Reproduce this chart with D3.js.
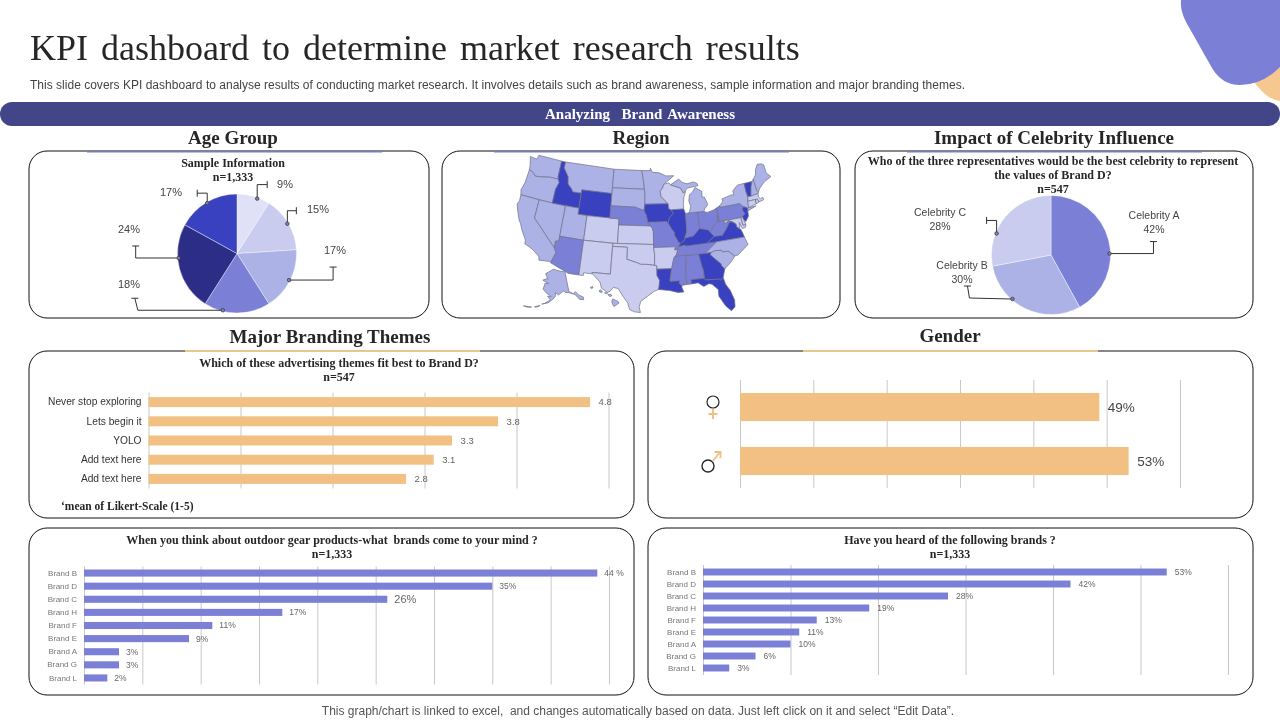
<!DOCTYPE html>
<html>
<head>
<meta charset="utf-8">
<script src="https://cdnjs.cloudflare.com/ajax/libs/d3/7.8.5/d3.min.js"></script>
<style>
  html, body { margin: 0; padding: 0; background: #fff; }
  svg { display: block; will-change: transform; }
  text { white-space: pre; }
  .serif { font-family: "Liberation Serif", serif; }
  .sans { font-family: "Liberation Sans", sans-serif; }
  .axis path { display: none; }
</style>
</head>
<body>
<div id="chart"></div>
<script>
// Age group pie
var ageValues = [9, 15, 17, 18, 24, 17];
var ageColors = ["#e0e1f6", "#c9cbef", "#adb2e6", "#7b80d6", "#2b2d86", "#3a41c0"];

// Celebrity pie
var celebNames = ["Celebrity A", "Celebrity B", "Celebrity C"];
var celebValues = [42, 30, 28];
var celebColors = ["#7b80d6", "#adb2e6", "#c9cbef"];

// Branding themes
var themeNames = ["Never stop exploring", "Lets begin it", "YOLO", "Add text here", "Add text here"];
var themeValues = [4.8, 3.8, 3.3, 3.1, 2.8];

// Gender
var genderValues = [49, 53];

// Brand questions
var brandNames = ["Brand B", "Brand D", "Brand C", "Brand H", "Brand F", "Brand E", "Brand A", "Brand G", "Brand L"];
var mindValues = [44, 35, 26, 17, 11, 9, 3, 3, 2];
var heardValues = [53, 42, 28, 19, 13, 11, 10, 6, 3];

// Map shading groups
var regionDark = ["ID", "WY", "IA", "IL", "KY", "VA", "NJ", "VT", "LA", "GA", "FL"];
var regionMid = ["NE", "MO", "IN", "OH", "PA", "WV", "TN", "MS", "AL", "AZ"];
var regionLight = ["WA", "OR", "CA", "NV", "UT", "MT", "ND", "SD", "MN", "MI", "NY", "ME", "NH", "NC", "SC", "AK", "HI"];
var regionPale = ["WI", "CO", "KS", "NM", "OK", "TX", "AR", "MD", "DE", "MA", "CT", "RI"];

// Rough state outlines in lon/lat
var stateShapes = {
  WA: [[[-124.7,48.4],[-123.0,48.3],[-122.8,49],[-117.03,49],[-117.04,46.4],[-116.9,46],[-118.98,46],[-119.3,45.93],[-121.2,45.65],[-122.3,45.55],[-122.8,45.9],[-123.4,46.2],[-124,46.25],[-124.1,46.9]]],
  OR: [[[-124,46.25],[-123.4,46.2],[-122.8,45.9],[-122.3,45.55],[-121.2,45.65],[-119.3,45.93],[-118.98,46],[-116.9,46],[-116.5,45.5],[-117,44.3],[-117.03,42],[-124.2,42],[-124.5,42.8],[-124.1,44]]],
  CA: [[[-124.2,42],[-120,42],[-120,39],[-114.63,35],[-114.15,34.27],[-114.5,33.4],[-114.72,32.72],[-117.12,32.53],[-117.3,33.1],[-118.4,33.75],[-119.2,34.15],[-120.6,34.55],[-120.65,35.15],[-121.9,36.6],[-122.5,37.5],[-123,38],[-123.8,39.3],[-124.4,40.4],[-124.1,41]]],
  NV: [[[-120,42],[-114.04,42],[-114.04,36.2],[-114.7,36.1],[-114.63,35],[-120,39]]],
  ID: [[[-117.03,49],[-116.05,49],[-116.05,48],[-114.7,46.7],[-114.4,45.55],[-113.45,44.95],[-113,44.45],[-111.05,44.48],[-111.05,42],[-117.03,42],[-117,44.3],[-116.5,45.5],[-116.9,46],[-117.04,46.4]]],
  MT: [[[-116.05,49],[-104.05,49],[-104.05,45],[-111.05,45],[-111.05,44.48],[-113,44.45],[-113.45,44.95],[-114.4,45.55],[-114.7,46.7],[-116.05,48]]],
  WY: [[[-111.05,45],[-104.05,45],[-104.05,41],[-111.05,41]]],
  UT: [[[-114.04,42],[-111.05,42],[-111.05,41],[-109.05,41],[-109.05,37],[-114.04,37]]],
  CO: [[[-109.05,41],[-102.05,41],[-102.05,37],[-109.05,37]]],
  AZ: [[[-114.04,37],[-109.05,37],[-109.05,31.33],[-111.07,31.33],[-114.81,32.5],[-114.72,32.72],[-114.5,33.4],[-114.15,34.27],[-114.63,35],[-114.7,36.1],[-114.04,36.2]]],
  NM: [[[-109.05,37],[-103,37],[-103.05,32],[-106.6,32],[-106.5,31.78],[-108.2,31.78],[-108.2,31.33],[-109.05,31.33]]],
  ND: [[[-104.05,49],[-97.23,49],[-96.85,47.5],[-96.56,45.94],[-104.05,45.94]]],
  SD: [[[-104.05,45.94],[-96.56,45.94],[-96.45,45.3],[-96.45,43.5],[-96.6,42.5],[-97.9,42.8],[-98.5,43],[-104.05,43]]],
  NE: [[[-104.05,43],[-98.5,43],[-97.9,42.8],[-96.6,42.5],[-96.1,41.7],[-95.75,40.58],[-95.3,40],[-102.05,40],[-102.05,41],[-104.05,41]]],
  KS: [[[-102.05,40],[-95.3,40],[-94.9,39.8],[-94.62,39.1],[-94.62,37],[-102.05,37]]],
  OK: [[[-103,37],[-94.62,37],[-94.62,36.5],[-94.43,35.4],[-94.48,33.64],[-96,33.8],[-97.2,33.8],[-98.1,34.1],[-100,34.56],[-100,36.5],[-103,36.5]]],
  TX: [[[-106.6,32],[-103.05,32],[-103,36.5],[-100,36.5],[-100,34.56],[-98.1,34.1],[-97.2,33.8],[-96,33.8],[-94.48,33.64],[-94.04,33.55],[-94.04,31.99],[-93.55,31.2],[-93.7,30.1],[-93.84,29.7],[-94.7,29.4],[-95.9,28.6],[-97.1,27.8],[-97.4,26.9],[-97.15,25.96],[-98.2,26.05],[-99.1,26.4],[-99.5,27.5],[-100.4,28.5],[-101.4,29.77],[-102.3,29.88],[-102.9,29.2],[-103.3,29],[-104.5,29.6],[-104.9,30.6],[-106.5,31.78]]],
  MN: [[[-97.23,49],[-95.15,49],[-95.15,49.38],[-94.6,48.7],[-93,48.6],[-91.4,48.05],[-89.5,48],[-92,46.7],[-92.3,46.1],[-92.9,45.6],[-92.75,44.75],[-91.2,43.5],[-96.45,43.5],[-96.45,45.3],[-96.56,45.94],[-96.85,47.5]]],
  IA: [[[-96.45,43.5],[-91.2,43.5],[-91.1,42.7],[-90.65,42.5],[-90.15,41.9],[-91.1,41.2],[-91.42,40.38],[-91.7,40.6],[-95.75,40.58],[-96.1,41.7],[-96.6,42.5]]],
  MO: [[[-95.75,40.58],[-91.7,40.6],[-91.42,40.38],[-90.7,39.4],[-90.15,38.8],[-90.2,38.4],[-89.5,37.3],[-89.15,36.98],[-89.5,36.5],[-89.7,36],[-90.38,36],[-90.15,36.5],[-94.62,36.5],[-94.62,39.1],[-94.9,39.8],[-95.3,40]]],
  AR: [[[-94.62,36.5],[-90.15,36.5],[-90.38,36],[-89.7,36],[-90.1,35.1],[-90.3,35],[-90.6,34.7],[-91.15,33],[-94.04,33],[-94.04,33.55],[-94.48,33.64],[-94.43,35.4]]],
  LA: [[[-94.04,33],[-91.15,33],[-91.6,31],[-89.73,31],[-89.85,30.6],[-89.4,30.2],[-89.4,29.8],[-89.1,29.1],[-90.2,29.1],[-91.8,29.5],[-93.84,29.7],[-93.7,30.1],[-93.55,31.2],[-94.04,31.99]]],
  MS: [[[-91.15,33],[-90.6,34.7],[-90.3,35],[-88.2,35],[-88.1,34.9],[-88.47,31.9],[-88.4,30.3],[-89.4,30.2],[-89.85,30.6],[-89.73,31],[-91.6,31]]],
  AL: [[[-88.2,35],[-85.6,34.98],[-85.18,32.87],[-85,32.3],[-85,31],[-87.6,31],[-87.5,30.3],[-88.4,30.3],[-88.47,31.9],[-88.1,34.9]]],
  TN: [[[-90.3,35],[-88.2,35],[-85.6,34.98],[-84.3,34.99],[-81.65,36.59],[-83.67,36.6],[-88.07,36.5],[-88.07,36.68],[-89.5,36.5],[-89.7,36],[-90.1,35.1]]],
  KY: [[[-89.5,36.5],[-88.07,36.68],[-88.07,36.5],[-83.67,36.6],[-81.97,37.54],[-82.6,38.17],[-83,38.7],[-84.8,39.1],[-85.4,38.7],[-86.3,38],[-87.5,37.9],[-88.1,37.8],[-88.1,37.5],[-89.15,36.98]]],
  IL: [[[-90.65,42.5],[-87.8,42.5],[-87.5,41.7],[-87.53,39.35],[-87.6,38.7],[-88.1,37.8],[-88.1,37.5],[-89.15,36.98],[-89.5,37.3],[-90.2,38.4],[-90.15,38.8],[-90.7,39.4],[-91.42,40.38],[-91.1,41.2],[-90.15,41.9]]],
  IN: [[[-87.5,41.7],[-87.2,41.76],[-84.8,41.76],[-84.8,39.1],[-85.4,38.7],[-86.3,38],[-87.5,37.9],[-88.1,37.8],[-87.6,38.7],[-87.53,39.35]]],
  OH: [[[-84.8,41.76],[-83.45,41.73],[-82.7,41.5],[-81.2,41.75],[-80.52,42],[-80.52,40.64],[-80.85,39.7],[-81.7,39.2],[-82.6,38.4],[-82.6,38.17],[-83,38.7],[-84.8,39.1]]],
  WI: [[[-92,46.7],[-90.8,46.9],[-90.4,46.55],[-88.1,45.9],[-87.6,45.1],[-87,45.3],[-87.5,44.5],[-87.8,43.2],[-87.8,42.5],[-90.65,42.5],[-91.1,42.7],[-91.2,43.5],[-92.75,44.75],[-92.9,45.6],[-92.3,46.1]]],
  MI: [[[-84.8,41.76],[-83.45,41.73],[-83.1,42.2],[-82.5,42.6],[-82.45,43],[-82.9,44],[-83.4,44.1],[-83.3,45],[-84.75,45.78],[-85.5,45],[-86.2,44.7],[-86.5,43.7],[-86.2,42.8],[-86.6,41.9],[-86.8,41.76]],
       [[-90.4,46.55],[-88.4,47.4],[-87.6,46.8],[-86.5,46.5],[-85,46.7],[-84.2,46.4],[-84,46],[-84.75,45.95],[-86.5,45.8],[-87.6,45.1],[-88.1,45.9]]],
  PA: [[[-80.52,42],[-79.76,42.25],[-79.76,42],[-75.35,42],[-74.7,41.36],[-75.1,40.95],[-74.75,40.2],[-75.4,39.8],[-75.8,39.72],[-80.52,39.72]]],
  NY: [[[-79.76,42.25],[-78.9,42.9],[-79.05,43.27],[-76.8,43.63],[-76.2,43.55],[-76.3,44.2],[-75,44.98],[-73.35,45],[-73.4,43.6],[-73.25,42.75],[-73.5,42.05],[-73.65,41],[-72,41],[-73.9,40.55],[-73.9,41],[-74.7,41.36],[-75.35,42],[-79.76,42]]],
  NJ: [[[-74.7,41.36],[-73.9,41],[-74,40.5],[-74.1,39.7],[-74.9,38.95],[-75.5,39.5],[-75.4,39.8],[-74.75,40.2],[-75.1,40.95]]],
  DE: [[[-75.8,39.72],[-75.4,39.8],[-75.05,38.45],[-75.7,38.45]]],
  MD: [[[-79.48,39.72],[-75.8,39.72],[-75.7,38.45],[-75.05,38.45],[-75.25,38.03],[-75.95,37.95],[-76.3,39],[-76.4,38.2],[-77,38.3],[-77.1,38.9],[-77.7,39.3],[-78.4,39.6],[-79.48,39.2]]],
  VA: [[[-83.67,36.6],[-81.65,36.59],[-75.9,36.55],[-76,37],[-76.3,37.9],[-77,38.3],[-77.1,38.9],[-77.7,39.3],[-78.35,39.4],[-79.3,38.4],[-80.3,37.5],[-81.97,37.54]]],
  WV: [[[-82.6,38.17],[-81.97,37.54],[-80.3,37.5],[-79.3,38.4],[-78.35,39.4],[-77.7,39.3],[-78.4,39.6],[-79.48,39.2],[-79.48,39.72],[-80.52,39.72],[-80.52,40.64],[-80.85,39.7],[-81.7,39.2],[-82.6,38.4]]],
  NC: [[[-84.3,34.99],[-83.1,35],[-82.3,35.2],[-81,35.15],[-80.8,34.82],[-79.67,34.8],[-78.55,33.86],[-77.9,33.9],[-76.5,34.7],[-75.5,35.25],[-75.9,36.55],[-81.65,36.59]]],
  SC: [[[-83.1,35],[-82.3,35.2],[-81,35.15],[-80.8,34.82],[-79.67,34.8],[-78.55,33.86],[-79.2,33.2],[-80.9,32.05],[-81.4,32.6],[-81.5,33],[-82.6,34],[-83.35,34.7]]],
  GA: [[[-85.6,34.98],[-84.3,34.99],[-83.1,35],[-83.35,34.7],[-82.6,34],[-81.5,33],[-81.4,32.6],[-80.9,32.05],[-81.45,30.72],[-82.05,30.36],[-82.2,30.57],[-84.86,30.7],[-85,31],[-85,32.3],[-85.18,32.87]]],
  FL: [[[-87.6,31],[-85,31],[-84.86,30.7],[-82.2,30.57],[-82.05,30.36],[-81.45,30.72],[-81.2,29.6],[-80.5,28.4],[-80.03,26.8],[-80.15,25.7],[-80.9,25.15],[-81.8,26.1],[-82.75,27.8],[-82.7,28.9],[-83.7,29.9],[-84.3,30.05],[-85.3,29.7],[-86.3,30.4],[-87.5,30.3]]],
  VT: [[[-73.35,45],[-71.5,45],[-72.05,44.1],[-72.45,43],[-72.46,42.73],[-73.25,42.75],[-73.4,43.6]]],
  NH: [[[-71.5,45],[-71.08,45.3],[-70.98,43.4],[-70.7,43.07],[-70.85,42.87],[-72.46,42.73],[-72.45,43],[-72.05,44.1]]],
  ME: [[[-71.08,45.3],[-70.3,45.9],[-70,46.7],[-69.23,47.46],[-68.3,47.36],[-67.8,47.07],[-67.8,45.7],[-67,44.9],[-68.8,44.4],[-70.2,43.6],[-70.7,43.07],[-70.98,43.4]]],
  MA: [[[-73.5,42.05],[-71.8,42.02],[-71.38,42.02],[-71.15,41.5],[-70,41.65],[-70.1,42.05],[-70.7,41.95],[-71,42.3],[-70.85,42.87],[-72.46,42.73],[-73.25,42.75]]],
  CT: [[[-73.5,42.05],[-71.8,42.02],[-71.85,41.32],[-73.65,41]]],
  RI: [[[-71.8,42.02],[-71.38,42.02],[-71.15,41.5],[-71.85,41.32]]],
  AK: [[[-141,69.65],[-144,70],[-148,70.4],[-152,70.9],[-156.6,71.35],[-161,70.3],[-166.2,68.9],[-163.5,67.1],[-162,66.6],[-164.5,66.5],[-168,65.6],[-161,64.5],[-165,64.4],[-165.5,62.6],[-166,61.6],[-162,59.9],[-158,58.8],[-157.5,58.6],[-161,58.6],[-158,57],[-163,55],[-164.8,54.6],[-160,55.5],[-156,57.3],[-153.5,59],[-154,60.5],[-151,59.3],[-149,60],[-146,60.9],[-144,60.1],[-141,59.8],[-138,58.9],[-136,58.2],[-133.5,55.5],[-130.5,54.8],[-130,56],[-133,57.5],[-135,59.5],[-137.5,58.9],[-141,60.3]],
       [[-170,52.7],[-168,53.3],[-166,53.9],[-166.5,53.4],[-169,52.6]],
       [[-178,51.7],[-175,51.9],[-172,52.2],[-175,51.6],[-178,51.5]]],
  HI: [[[-155.9,20.2],[-155,19.8],[-154.8,19.5],[-155.7,18.95],[-156.05,19.7]],
       [[-156.7,20.9],[-156.2,20.95],[-156,20.7],[-156.4,20.58]],
       [[-158.25,21.55],[-157.95,21.7],[-157.65,21.3],[-158.1,21.3]],
       [[-159.8,22.05],[-159.4,22.23],[-159.3,22],[-159.6,21.9]],
       [[-157.3,21.2],[-156.75,21.17],[-156.9,21.05]]]
};

var indigo = "#7b80d6";
var sand = "#f2c083";
var grid = "#c8c8c8";

var svg = d3.select("#chart").append("svg").attr("width", 1280).attr("height", 720);

// Top right corner shapes
svg.append("path").attr("d", "M1240,60 Q1262,100 1280,101 L1280,60 Z").attr("fill", "#f6c78f");
svg.append("path")
  .attr("d", "M1181,0 L1280,0 L1280,67 Q1262,85 1240,85 Q1222,85 1212,68 L1186,22 Q1180,10 1181,0 Z")
  .attr("fill", indigo);

// Slide heading
svg.append("text").attr("class", "serif").attr("x", 30).attr("y", 60)
  .attr("font-size", 36).attr("fill", "#262626").attr("word-spacing", 4)
  .text("KPI dashboard to determine market research results");
svg.append("text").attr("class", "sans").attr("x", 30).attr("y", 89)
  .attr("font-size", 12).attr("fill", "#444").attr("textLength", 935).attr("lengthAdjust", "spacing")
  .text("This slide covers KPI dashboard to analyse results of conducting market research. It involves details such as brand awareness, sample information and major branding themes.");

svg.append("rect").attr("x", 0).attr("y", 102).attr("width", 1280).attr("height", 24).attr("rx", 12)
  .attr("fill", "#424588");
svg.append("text").attr("class", "serif").attr("x", 640).attr("y", 119).attr("text-anchor", "middle")
  .attr("font-size", 15).attr("font-weight", "bold").attr("fill", "#fff").attr("word-spacing", 2)
  .text("Analyzing  Brand Awareness");

svg.append("text").attr("class", "sans").attr("x", 638).attr("y", 715).attr("text-anchor", "middle")
  .attr("font-size", 12).attr("fill", "#555")
  .text("This graph/chart is linked to excel,  and changes automatically based on data. Just left click on it and select “Edit Data”.");

// Rounded panels
var panels = [[29, 151, 400, 167], [442, 151, 398, 167], [855, 151, 398, 167],
  [29, 351, 605, 167], [648, 351, 605, 167], [29, 528, 605, 167], [648, 528, 605, 167]];
svg.selectAll("rect.panel").data(panels).join("rect").attr("class", "panel")
  .attr("x", d => d[0]).attr("y", d => d[1]).attr("width", d => d[2]).attr("height", d => d[3])
  .attr("rx", 18).attr("fill", "#fff").attr("stroke", "#111").attr("stroke-width", 1);

// Section titles and underlines
function sectionTitle(label, cx, y, lineX, lineY, color) {
  svg.append("line").attr("x1", lineX).attr("x2", lineX + 295).attr("y1", lineY).attr("y2", lineY)
    .attr("stroke", color).attr("stroke-width", 2);
  svg.append("text").attr("class", "serif").attr("x", cx).attr("y", y).attr("text-anchor", "middle")
    .attr("font-size", 19).attr("font-weight", "bold").attr("fill", "#262626").text(label);
}
sectionTitle("Age Group", 233, 144, 87, 151.5, "#7a7fb5");
sectionTitle("Region", 641, 144, 494, 151.5, "#7a7fb5");
sectionTitle("Impact of Celebrity Influence", 1054, 144, 907, 151.5, "#7a7fb5");
sectionTitle("Major Branding Themes", 330, 343, 185, 351, "#e8c68f");
sectionTitle("Gender", 950, 342, 803, 351, "#e8c68f");

// Bold question text above a chart
function question(lines, cx, y) {
  lines.forEach((line, i) => {
    svg.append("text").attr("class", "serif").attr("x", cx).attr("y", y + i * 14)
      .attr("text-anchor", "middle").attr("font-size", 12).attr("font-weight", "bold")
      .attr("fill", "#262626").text(line);
  });
}
question(["Sample Information", "n=1,333"], 233, 167);
question(["Who of the three representatives would be the best celebrity to represent", "the values of Brand D?", "n=547"], 1053, 165);
question(["Which of these advertising themes fit best to Brand D?", "n=547"], 339, 367);
question(["When you think about outdoor gear products-what  brands come to your mind ?", "n=1,333"], 332, 544);
question(["Have you heard of the following brands ?", "n=1,333"], 950, 544);

svg.append("text").attr("class", "serif").attr("x", 61).attr("y", 510)
  .attr("font-size", 11.5).attr("font-weight", "bold").attr("fill", "#262626")
  .text("‘mean of Likert-Scale (1-5)");

// Pie with elbow leader lines. leaders: [angle nudge in degrees, elbow points from the dot, end tick direction]
function drawPie(values, colors, cx, cy, r, leaders) {
  var g = svg.append("g").attr("transform", `translate(${cx},${cy})`);
  var arcs = d3.pie().sort(null)(values);
  var arc = d3.arc().innerRadius(0).outerRadius(r);

  g.selectAll("path").data(arcs).join("path")
    .attr("d", arc).attr("fill", (d, i) => colors[i]).attr("stroke", "#fff").attr("stroke-width", 0.4);

  arcs.forEach((d, i) => {
    var lead = leaders[i];
    var a = (d.startAngle + d.endAngle) / 2 + lead.nudge * Math.PI / 180;
    var x0 = Math.sin(a) * (r - 1);
    var y0 = -Math.cos(a) * (r - 1);
    var pts = [[x0, y0], [x0 + lead.a[0], y0 + lead.a[1]], [x0 + lead.b[0], y0 + lead.b[1]]];
    var end = pts[2];
    g.append("path").attr("d", d3.line()(pts)).attr("fill", "none").attr("stroke", "#333").attr("stroke-width", 1);
    // short tick across the free end
    var tick = lead.tick === "v" ? [[end[0], end[1] - 3.5], [end[0], end[1] + 3.5]] : [[end[0] - 3.5, end[1]], [end[0] + 3.5, end[1]]];
    g.append("path").attr("d", d3.line()(tick)).attr("stroke", "#333").attr("stroke-width", 1);
    g.append("circle").attr("cx", x0).attr("cy", y0).attr("r", 1.8)
      .attr("fill", "#7b80a8").attr("stroke", "#333").attr("stroke-width", 0.7);
  });
}

// Layout of the callouts, values come from the arrays above
var ageLeaders = [
  { nudge: 4, a: [0, -14], b: [10, -14], tick: "v" },
  { nudge: 0, a: [0, -13], b: [9, -13], tick: "v" },
  { nudge: 0, a: [44, 0], b: [44, -13], tick: "h" },
  { nudge: 14, a: [-85, 0], b: [-88, -12], tick: "h" },
  { nudge: 10, a: [-43, 0], b: [-43, -12], tick: "h" },
  { nudge: 0, a: [0, -10], b: [-10, -10], tick: "v" }
];
var celebLeaders = [
  { nudge: 13, a: [44, 0], b: [44, -12], tick: "h" },
  { nudge: 16, a: [-43, -1], b: [-45, -13], tick: "h" },
  { nudge: -18, a: [0, -13], b: [-10, -13], tick: "v" }
];
drawPie(ageValues, ageColors, 237, 253.5, 59.5, ageLeaders);
drawPie(celebValues, celebColors, 1051, 255, 59.5, celebLeaders);

var ageLabelX = [285, 318, 335, 129, 129, 171];
var ageLabelY = [188, 213, 254, 288, 233, 196];
svg.selectAll("text.agelab").data(ageValues).join("text").attr("class", "agelab sans")
  .attr("x", (d, i) => ageLabelX[i]).attr("y", (d, i) => ageLabelY[i]).attr("text-anchor", "middle")
  .attr("font-size", 11).attr("fill", "#444").text(d => d + "%");

var celebLabelX = [1154, 962, 940];
var celebLabelY = [219, 269, 216];
celebNames.forEach((name, i) => {
  var t = svg.append("text").attr("class", "sans").attr("text-anchor", "middle").attr("font-size", 10.5).attr("fill", "#444");
  t.append("tspan").attr("x", celebLabelX[i]).attr("y", celebLabelY[i]).text(name);
  t.append("tspan").attr("x", celebLabelX[i]).attr("y", celebLabelY[i] + 13.5).text(celebValues[i] + "%");
});

// Horizontal bars with vertical gridlines
function drawBars(opt) {
  var x = d3.scaleLinear().domain([0, opt.max]).range([opt.left, opt.right]);
  var y = d3.scaleBand().domain(opt.values.map((d, i) => i)).range([opt.top, opt.bottom])
    .paddingInner(opt.pad).paddingOuter(opt.pad / 2);
  var ticks = d3.range(0, opt.max + opt.step / 2, opt.step);

  var gridAxis = svg.append("g").attr("class", "axis").attr("transform", `translate(0,${opt.bottom + opt.over})`)
    .call(d3.axisBottom(x).tickValues(ticks).tickSize(-(opt.bottom - opt.top + opt.over * 2)).tickFormat(""));
  gridAxis.selectAll("line").attr("stroke", grid).attr("stroke-width", 1);

  svg.append("g").selectAll("rect").data(opt.values).join("rect")
    .attr("x", x(0)).attr("y", (d, i) => y(i)).attr("width", d => x(d) - x(0)).attr("height", y.bandwidth())
    .attr("fill", opt.color);

  if (opt.names) {
    var nameAxis = svg.append("g").attr("class", "axis").attr("transform", `translate(${opt.left - 7},0)`)
      .call(d3.axisLeft(y).tickSize(0).tickPadding(0).tickFormat(i => opt.names[i]));
    nameAxis.selectAll("text").attr("class", "sans").attr("font-size", opt.nameSize)
      .attr("fill", opt.nameColor).attr("font-family", "'Liberation Sans', sans-serif");
  }

  svg.append("g").selectAll("text").data(opt.values).join("text")
    .attr("class", "sans")
    .attr("x", d => x(d) + opt.gap).attr("y", (d, i) => y(i) + y.bandwidth() / 2)
    .attr("dy", "0.35em").attr("font-size", (d, i) => opt.sizeFor ? opt.sizeFor(i) : opt.valSize)
    .attr("fill", opt.valColor).text(opt.fmt);
}

drawBars({
  values: themeValues, names: themeNames, max: 5, step: 1,
  left: 148.5, right: 608.5, top: 392.5, bottom: 488.5, pad: 0.48, over: 0, color: sand,
  nameSize: 10.2, nameColor: "#333", valSize: 9.5, valColor: "#666", gap: 8.5, fmt: d => d.toFixed(1)
});
drawBars({
  values: genderValues, max: 60, step: 10,
  left: 740, right: 1180, top: 380, bottom: 488, pad: 0.48, over: 0, color: sand,
  valSize: 13.5, valColor: "#444", gap: 8.5, fmt: d => d + "%"
});
drawBars({
  values: mindValues, names: brandNames, max: 45, step: 5,
  left: 84, right: 609, top: 566.5, bottom: 684.5, pad: 0.46, over: 0, color: indigo,
  nameSize: 8, nameColor: "#777", valSize: 8.5, valColor: "#666", gap: 7,
  fmt: (d, i) => i === 0 ? d + " %" : d + "%", sizeFor: i => i === 2 ? 11 : 8.5
});
drawBars({
  values: heardValues, names: brandNames, max: 60, step: 10,
  left: 703, right: 1228, top: 566, bottom: 674, pad: 0.42, over: 1, color: indigo,
  nameSize: 8, nameColor: "#777", valSize: 8.5, valColor: "#666", gap: 8, fmt: d => d + "%"
});

// Gender symbols next to the bars
var female = svg.append("g").attr("fill", "none");
female.append("circle").attr("cx", 713).attr("cy", 402).attr("r", 6).attr("stroke", "#262626").attr("stroke-width", 1.2);
female.append("path").attr("d", "M713,409V419M708.5,414H717.5").attr("stroke", sand).attr("stroke-width", 2);
var male = svg.append("g").attr("fill", "none");
male.append("circle").attr("cx", 708).attr("cy", 466).attr("r", 6).attr("stroke", "#262626").attr("stroke-width", 1.4);
male.append("path").attr("d", "M712.5,461.5L720,452M714.5,452H720.5V458").attr("stroke", sand).attr("stroke-width", 1.8);

// US map
var projection = d3.geoAlbersUsa().scale(352).translate([644, 234]);
var geoPath = d3.geoPath(projection);

function stateColor(code) {
  if (regionDark.includes(code)) return "#3a41c0";
  if (regionMid.includes(code)) return "#7b80d6";
  if (regionLight.includes(code)) return "#adb2e6";
  return "#c9cbef";
}

// d3 wants clockwise rings, flip any ring that came out as the whole globe
function toFeature(ring) {
  var closed = ring.concat([ring[0]]);
  var feature = { type: "Feature", geometry: { type: "Polygon", coordinates: [closed] } };
  if (d3.geoArea(feature) > 2 * Math.PI) feature.geometry.coordinates = [closed.slice().reverse()];
  return feature;
}

var mapGroup = svg.append("g");
Object.keys(stateShapes).forEach(code => {
  // Alaska and Hawaii sit a bit further in than the default inset
  var group = (code === "AK" || code === "HI") ? mapGroup.append("g").attr("transform", "translate(17,-8)") : mapGroup;
  stateShapes[code].forEach(ring => {
    group.append("path").datum(toFeature(ring)).attr("d", geoPath)
      .attr("fill", stateColor(code)).attr("stroke", "#6f7187").attr("stroke-width", 0.7);
  });
});
</script>
</body>
</html>
